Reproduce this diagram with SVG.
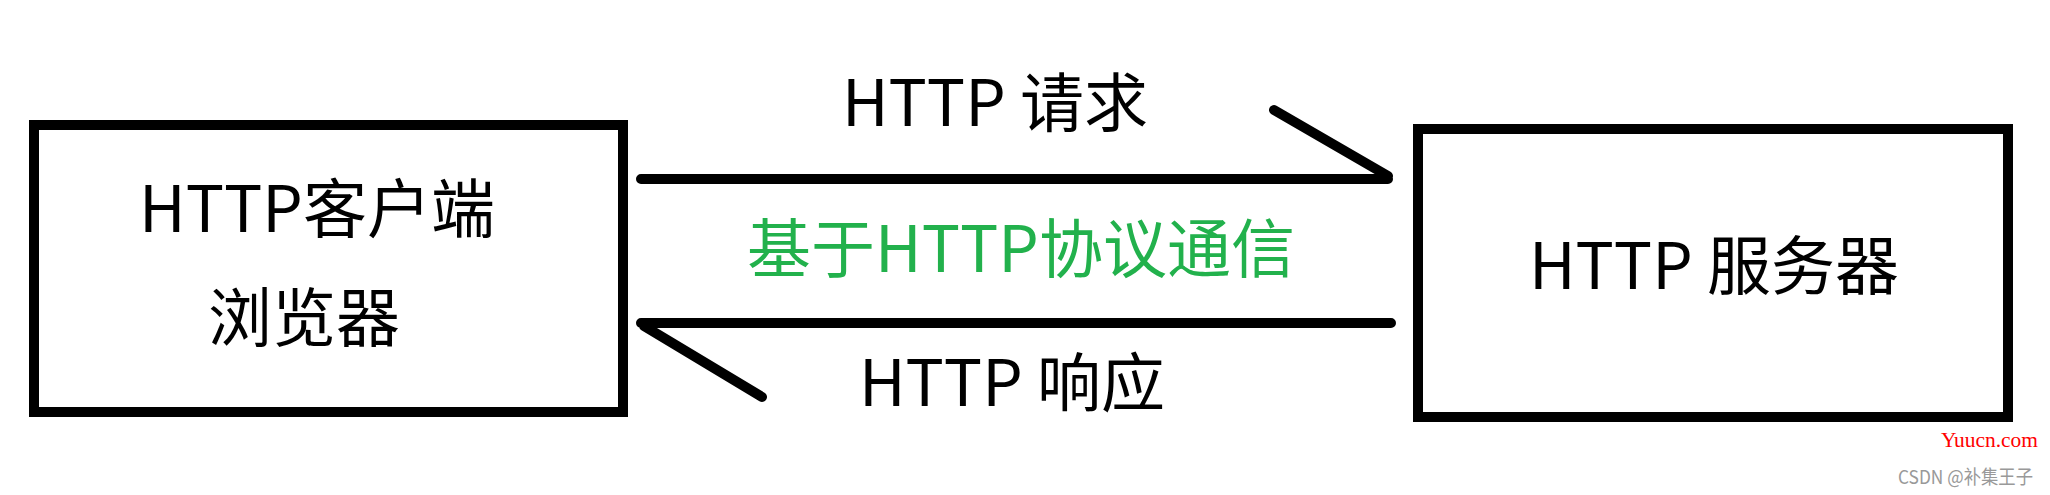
<svg xmlns="http://www.w3.org/2000/svg" width="2050" height="495" viewBox="0 0 2050 495">
<style>
.box{fill:#fff;stroke:#000;stroke-width:10}
.conn{stroke:#000;stroke-width:10;stroke-linecap:round;fill:none}
.t{font-family:"Noto Sans CJK SC","Liberation Sans",sans-serif;font-size:64px;fill:#000;text-anchor:middle}
.g{fill:#22B14C}
</style>
<rect width="2050" height="495" fill="#fff"/>
<g id="client">
<rect class="box" x="34" y="125" width="589" height="287"/>
<text class="t" x="317" y="232">HTTP客户端</text>
<text class="t" x="304" y="341">浏览器</text>
</g>
<g id="server">
<rect class="box" x="1418" y="129" width="590" height="288"/>
<text class="t" x="1714" y="289">HTTP 服务器</text>
</g>
<g id="connectors">
<path class="conn" d="M641 179 L1388 179 M1274 110 L1388 176"/>
<path class="conn" d="M641 323 L1391 323 M644 326 L762 397"/>
</g>
<g id="labels">
<text class="t" x="995" y="126">HTTP 请求</text>
<text class="t g" x="1021" y="272">基于HTTP协议通信</text>
<text class="t" x="1012" y="406">HTTP 响应</text>
</g>
<g id="watermark">
<text x="1941" y="447" font-family="Liberation Serif,serif" font-size="20" fill="#FF0000" textLength="97" lengthAdjust="spacingAndGlyphs">Yuucn.com</text>
<text x="1898" y="484" font-family="Noto Sans CJK SC,sans-serif" font-size="19" fill="#999999" textLength="135" lengthAdjust="spacingAndGlyphs">CSDN @补集王子</text>
</g>
</svg>
